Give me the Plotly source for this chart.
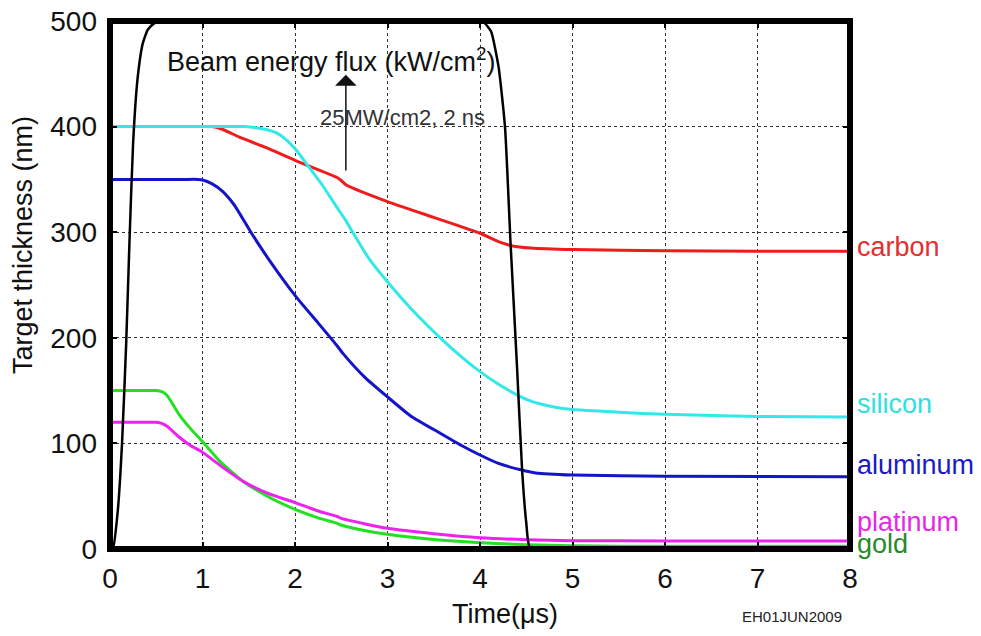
import plotly.graph_objects as go

# ---------------- data ----------------
carbon_t = [0, 0.5, 0.9, 1.1, 1.2, 1.4, 1.69, 2.0, 2.45, 2.5, 2.55, 3.0, 3.5, 4.0, 4.2, 4.35, 4.55, 5.0, 6.0, 7.0, 8.0]
carbon_v = [400, 400, 400, 400, 398, 390, 380, 368, 352, 349, 345, 329, 314, 299, 291, 287, 285, 283.5, 282.5, 282, 282]

silicon_t = [0, 0.5, 1.0, 1.3, 1.45, 1.58, 1.7, 1.8, 1.9, 2.01, 2.13, 2.3, 2.45, 2.55, 2.63, 2.8, 3.0, 3.25, 3.57, 3.8, 4.0, 4.2, 4.4, 4.55, 4.8, 5.0, 5.5, 6.0, 7.0, 8.0]
silicon_v = [400, 400, 400, 400, 400, 399, 397, 394, 388, 378, 364, 344, 324, 311, 299, 275, 253, 228, 200, 182, 168, 156, 146, 140, 134.5, 132, 129.5, 127.5, 125.5, 125]

aluminum_t = [0, 0.4, 0.8, 0.95, 1.0, 1.1, 1.22, 1.35, 1.53, 1.75, 2.01, 2.25, 2.45, 2.52, 2.75, 3.0, 3.25, 3.57, 3.8, 4.0, 4.2, 4.44, 4.6, 5.0, 6.0, 8.0]
aluminum_v = [350, 350, 350, 350, 349.5, 346, 338.5, 325, 299, 270, 239, 214, 193, 185, 163, 144, 126, 109.6, 98, 89, 81, 75, 72, 70, 69, 68.5]

platinum_t = [0, 0.25, 0.45, 0.5, 0.56, 0.62, 0.75, 0.87, 1.0, 1.2, 1.44, 1.7, 2.0, 2.25, 2.45, 2.5, 2.75, 3.0, 3.5, 4.0, 4.5, 5.0, 6.0, 8.0]
platinum_v = [120, 120, 120, 120, 119, 116, 105.8, 98, 91.6, 78.5, 64, 53, 44, 36, 31, 29, 24, 19.6, 14.5, 10.7, 8.8, 7.9, 7.6, 7.5]

gold_t = [0, 0.25, 0.45, 0.5, 0.56, 0.61, 0.68, 0.75, 0.87, 1.0, 1.2, 1.44, 1.7, 2.0, 2.25, 2.45, 2.5, 2.75, 3.0, 3.5, 4.0, 4.5, 5.0, 6.0, 8.0]
gold_v = [150, 150, 150, 150, 149, 146, 137, 127, 114, 101.7, 82, 64, 50, 37.6, 29.5, 24.5, 22.7, 17.5, 13.9, 9, 6, 4, 3, 2.5, 2.5]

beam_t = [0, 0.03, 0.085, 0.13, 0.175, 0.21, 0.25, 0.30, 0.355, 0.41, 0.48, 0.6, 1.0, 2.0, 3.0, 3.8, 3.95, 4.05, 4.12, 4.2, 4.27, 4.33, 4.40, 4.455, 4.5, 4.545, 5.0, 8.0]
beam_v = [0, 0, 37, 100, 195, 290, 385, 447, 479, 492, 498, 503, 506, 507, 507, 505, 502, 498, 490, 457, 400, 290, 173, 75, 25, 0, 0, 0]

x_ticks = [0, 1, 2, 3, 4, 5, 6, 7, 8]
y_ticks = [0, 100, 200, 300, 400, 500]

series = [
    ("carbon", carbon_t, carbon_v, "#ee1c1c"),
    ("silicon", silicon_t, silicon_v, "#33e8e8"),
    ("aluminum", aluminum_t, aluminum_v, "#1414c8"),
    ("gold", gold_t, gold_v, "#22e022"),
    ("platinum", platinum_t, platinum_v, "#ee22ee"),
]

# label (name, y-value, color)
labels = [
    ("carbon", 286, "#e52e2e"),
    ("silicon", 137, "#2ee0e0"),
    ("aluminum", 79.5, "#1a1ac8"),
    ("platinum", 25.6, "#e628e6"),
    ("gold", 4.7, "#2a8a2a"),
]

FONT = "Arial, Liberation Sans, sans-serif"

fig = go.Figure()
for name, t, v, c in series:
    fig.add_trace(go.Scatter(x=t, y=v, mode="lines", name=name,
                             line=dict(color=c, width=3, shape="spline", smoothing=0.5)))
fig.add_trace(go.Scatter(x=beam_t, y=beam_v, mode="lines", name="beam",
                         line=dict(color="black", width=2.5, shape="spline", smoothing=0.5)))

for name, yv, c in labels:
    fig.add_annotation(x=8, y=yv, xref="x", yref="y", text=name, showarrow=False,
                       xanchor="left", yanchor="middle", xshift=5,
                       font=dict(family=FONT, size=27, color=c))

fig.add_annotation(x=0.59, y=463, xref="x", yref="y", text="Beam energy flux (kW/cm<sup>2</sup>)",
                   showarrow=False, xanchor="left", yanchor="middle",
                   font=dict(family=FONT, size=27, color="#111111"))
fig.add_annotation(x=2.246, y=409, xref="x", yref="y", text="25MW/cm2, 2 ns",
                   showarrow=False, xanchor="left", yanchor="middle",
                   font=dict(family=FONT, size=22, color="#333333"))
fig.add_annotation(x=2.55, y=449, ax=2.55, ay=357, xref="x", yref="y", axref="x", ayref="y",
                   text="", showarrow=True, arrowhead=1, arrowsize=2.4, arrowwidth=1.5,
                   arrowcolor="#111111")

fig.add_annotation(x=505, y=614, xref="paper", yref="paper", text="Time(μs)", showarrow=False,
                   font=dict(family=FONT, size=27, color="#111111"))
fig.add_annotation(x=23, y=245, text="Target thickness (nm)", showarrow=False, textangle=-90,
                   font=dict(family=FONT, size=27, color="#111111"))
fig.add_annotation(x=792, y=616, text="EH01JUN2009", showarrow=False,
                   font=dict(family=FONT, size=15, color="#222222"))

# convert pixel-positioned annotations to paper coords
L, R, T, B = 110, 131, 21, 87
W, H = 981, 636
pw, ph = W - L - R, H - T - B
for a in fig.layout.annotations[-3:]:
    px, py = a.x, a.y
    a.xref = "paper"; a.yref = "paper"
    a.x = (px - L) / pw
    a.y = (H - B - py) / ph
    a.xanchor = "center"; a.yanchor = "middle"

fig.add_shape(type="rect", xref="paper", yref="paper", x0=0, y0=0, x1=1, y1=1,
              line=dict(color="black", width=6), layer="above")

fig.update_xaxes(range=[0, 8], tickvals=x_ticks, ticks="inside", ticklen=7, tickwidth=2,
                 tickcolor="black", mirror="ticks", showline=False, zeroline=False,
                 showgrid=True, gridcolor="#333333", gridwidth=1, griddash="dot",
                 automargin=False,
                 tickfont=dict(family=FONT, size=28, color="#111111"), ticklabelstandoff=10)
fig.update_yaxes(range=[0, 500], tickvals=y_ticks, ticks="inside", ticklen=7, tickwidth=2,
                 tickcolor="black", mirror="ticks", showline=False, zeroline=False,
                 showgrid=True, gridcolor="#333333", gridwidth=1, griddash="dot",
                 automargin=False,
                 tickfont=dict(family=FONT, size=28, color="#111111"), ticklabelstandoff=12)

fig.update_layout(width=W, height=H, margin=dict(l=L, r=R, t=T, b=B, autoexpand=False),
                  paper_bgcolor="white", plot_bgcolor="white", showlegend=False)

fig.write_html("out.html")
